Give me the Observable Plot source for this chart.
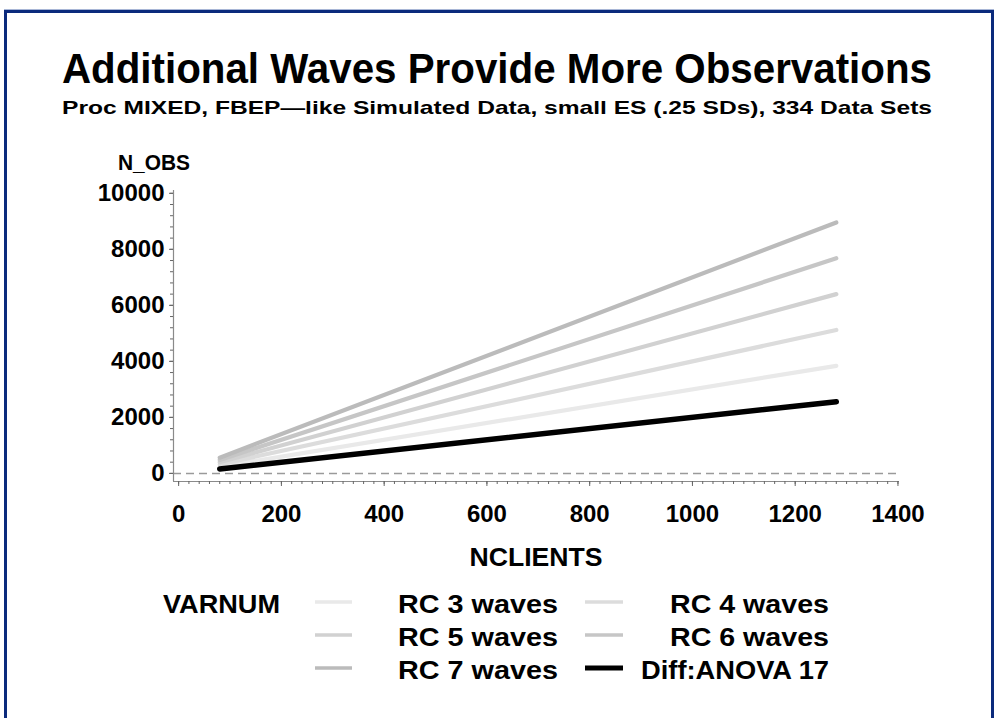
<!DOCTYPE html>
<html>
<head>
<meta charset="utf-8">
<script src="https://cdn.jsdelivr.net/npm/d3@7"></script>
<script src="https://cdn.jsdelivr.net/npm/@observablehq/plot@0.6"></script>
<style>
  html, body { margin: 0; padding: 0; background: #fff; overflow: hidden; width: 994px; height: 718px; }
  #frame { position: absolute; left: 4px; top: 10px; width: 990px; height: 740px; box-sizing: border-box;
           border: 3px solid #0b2a7c; box-shadow: 0 -1px 0 #a8b6d6; }
  #chart { position: absolute; left: 0; top: 0; }
  #overlay { position: absolute; left: 0; top: 0; }
  text { font-family: "Liberation Sans", Arial, Helvetica, sans-serif; font-weight: bold; }
</style>
</head>
<body>
<div id="frame"></div>
<div id="chart"></div>
<svg id="overlay" width="994" height="718"></svg>
<script>
// ---- data ----
const seriesNames = ["RC 3 waves", "RC 4 waves", "RC 5 waves", "RC 6 waves", "RC 7 waves", "Diff:ANOVA 17"];
const seriesColors = ["#e9e9e9", "#dcdcdc", "#d1d1d1", "#c6c6c6", "#bbbbbb", "#000000"];
const nclients = [80, 1280];
const obsRC3 = [240, 3840];
const obsRC4 = [320, 5120];
const obsRC5 = [400, 6400];
const obsRC6 = [480, 7680];
const obsRC7 = [560, 8960];
const obsAnova = [160, 2560];
const xTicks = [0, 200, 400, 600, 800, 1000, 1200, 1400];
const yTicks = [0, 2000, 4000, 6000, 8000, 10000];
const xDomain = [-10, 1403];
const yDomain = [-290, 10100];

const seriesValues = [obsRC3, obsRC4, obsRC5, obsRC6, obsRC7, obsAnova];
const rows = [];
seriesNames.forEach((name, i) => {
  nclients.forEach((n, j) => rows.push({series: name, NCLIENTS: n, N_OBS: seriesValues[i][j]}));
});
const xMinor = d3.range(0, 1401, 20);
const yMinor = d3.range(0, 10001, 400);

const chart = Plot.plot({
  width: 994,
  height: 718,
  marginLeft: 173,
  marginRight: 95,
  marginTop: 190,
  marginBottom: 237,
  style: {background: "transparent", color: "#000", fontFamily: "'Liberation Sans', Arial, sans-serif", fontWeight: "bold", fontSize: "24px", overflow: "visible"},
  x: {domain: xDomain},
  y: {domain: yDomain},
  color: {domain: seriesNames, range: seriesColors},
  marks: [
    Plot.ruleY([0], {stroke: "#9a9a9a", strokeWidth: 1.5, strokeDasharray: "8,5"}),
    Plot.line(rows.filter(d => d.series !== "Diff:ANOVA 17"), {x: "NCLIENTS", y: "N_OBS", z: "series", stroke: "series", strokeWidth: 4.2, strokeLinecap: "round"}),
    Plot.line(rows.filter(d => d.series === "Diff:ANOVA 17"), {x: "NCLIENTS", y: "N_OBS", stroke: "series", strokeWidth: 5.5, strokeLinecap: "round"}),
    Plot.ruleX([xDomain[0]], {stroke: "#8a8a8a", strokeWidth: 1.2}),
    Plot.ruleY([yDomain[0]], {stroke: "#8a8a8a", strokeWidth: 1.2}),
    Plot.axisX({ticks: xMinor, tickSize: 3, tickFormat: () => "", label: null, stroke: "#666"}),
    Plot.axisX({ticks: xTicks, tickSize: 5, tickPadding: 18, label: null, stroke: "#666", fill: "#000", fontSize: 24, fontWeight: "bold", tickFormat: d => String(d)}),
    Plot.axisY({ticks: yMinor, tickSize: 3, tickFormat: () => "", label: null, stroke: "#666"}),
    Plot.axisY({ticks: yTicks, tickSize: 4, tickPadding: 5, label: null, stroke: "#666", fill: "#000", fontSize: 24, fontWeight: "bold", tickFormat: d => String(d)})
  ]
});
document.getElementById("chart").appendChild(chart);

// ---- titles, axis labels, legend ----
const svg = d3.select("#overlay");
function txt(s, x, y, size, len, anchor = "start") {
  const t = svg.append("text").attr("x", x).attr("y", y).attr("font-size", size)
    .attr("text-anchor", anchor).attr("fill", "#000").text(s);
  if (len) t.attr("textLength", len).attr("lengthAdjust", "spacingAndGlyphs");
  return t;
}
txt("Additional Waves Provide More Observations", 62, 83, 43, 870);
txt("Proc MIXED, FBEP\u2014like Simulated Data, small ES (.25 SDs), 334 Data Sets", 62, 114, 19, 870);
txt("N_OBS", 118, 170, 22, 72);
txt("NCLIENTS", 536, 566, 25, 133, "middle");
txt("VARNUM", 163, 613, 25, 117);

const legendCols = [{x1: 315, x2: 352, textEnd: 558}, {x1: 585, x2: 623, textEnd: 829}];
const legendRows = [613, 646, 679];
const legendLens = [160, 159, 160, 159, 160, 188];
seriesNames.forEach((name, i) => {
  const col = legendCols[i % 2];
  const base = legendRows[Math.floor(i / 2)];
  svg.append("line").attr("x1", col.x1).attr("x2", col.x2)
    .attr("y1", base - 11).attr("y2", base - 11)
    .attr("stroke", seriesColors[i]).attr("stroke-width", name === "Diff:ANOVA 17" ? 5 : 3.5);
  txt(name, col.textEnd, base, 25, legendLens[i], "end");
});
</script>
</body>
</html>
